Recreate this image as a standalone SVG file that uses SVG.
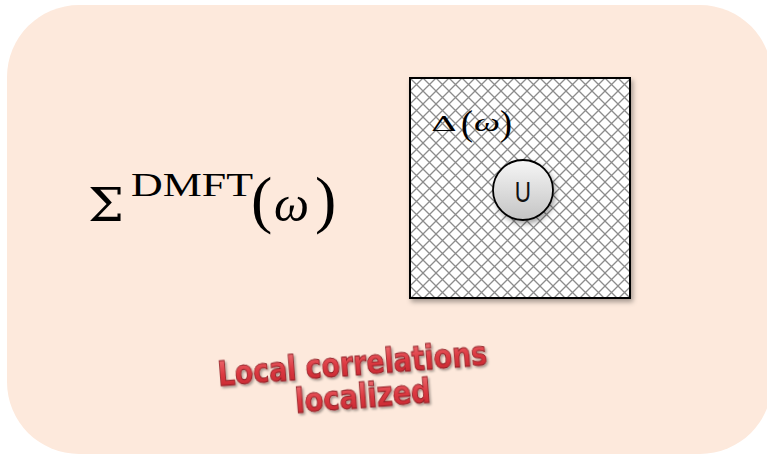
<svg xmlns="http://www.w3.org/2000/svg" width="767" height="455" viewBox="0 0 767 455">
<style>
.math{font-family:"Liberation Serif","DejaVu Serif",serif;fill:#000}
.greek{font-family:"DejaVu Serif","Liberation Serif",serif;fill:#000}
.red{font-family:"DejaVu Sans","Liberation Sans",sans-serif;font-weight:bold;font-size:33px;fill:url(#redg);stroke:#8e1c22;stroke-width:0.9;text-anchor:middle}
</style>
<defs>
<pattern id="hatch" width="13" height="13" patternUnits="userSpaceOnUse" x="410" y="78">
<rect width="13" height="13" fill="#fff"/>
<path d="M0,0 L13,13 M13,0 L0,13" stroke="#8c8c8c" stroke-width="1.3"/>
</pattern>
<linearGradient id="ug" x1="0" y1="0" x2="0" y2="1">
<stop offset="0" stop-color="#f6f6f6"/>
<stop offset="1" stop-color="#c4c4c4"/>
</linearGradient>
<linearGradient id="redg" x1="0" y1="0" x2="0" y2="1">
<stop offset="0" stop-color="#f0767a"/>
<stop offset="0.5" stop-color="#dc3a42"/>
<stop offset="1" stop-color="#c0212b"/>
</linearGradient>
<filter id="sh" x="-20%" y="-20%" width="140%" height="140%">
<feDropShadow dx="2" dy="3" stdDeviation="2.5" flood-color="#000" flood-opacity="0.35"/>
</filter>
<filter id="tsh" x="-10%" y="-30%" width="120%" height="160%">
<feDropShadow dx="1.5" dy="2" stdDeviation="1.2" flood-color="#000" flood-opacity="0.35"/>
</filter>
</defs>
<rect x="0" y="0" width="767" height="455" fill="#fff"/>
<g id="background">
<rect x="7" y="5" width="765" height="449" rx="72" ry="72" fill="#fde9dc"/>
</g>
<g id="sigma">
<text class="greek" x="88" y="221" font-size="46" textLength="36" lengthAdjust="spacingAndGlyphs">Σ</text>
<text class="math" x="131" y="196" font-size="33" textLength="122" lengthAdjust="spacingAndGlyphs">DMFT</text>
<text class="math" x="251" y="221" font-size="64">(</text>
<text class="math" x="274" y="221" font-size="50" font-style="italic" textLength="35" lengthAdjust="spacingAndGlyphs">ω</text>
<text class="math" x="315" y="221" font-size="64">)</text>
</g>
<g id="bath">
<rect x="410" y="78" width="220" height="220" fill="url(#hatch)" stroke="#000" stroke-width="2" filter="url(#sh)"/>
<text class="greek" x="431" y="131" font-size="20" textLength="26" lengthAdjust="spacingAndGlyphs">Δ</text>
<text class="math" x="461" y="135" font-size="36">(</text>
<text class="math" x="474" y="131" font-size="25" font-style="italic" textLength="26" lengthAdjust="spacingAndGlyphs">ω</text>
<text class="math" x="500" y="135" font-size="36">)</text>
</g>
<g id="impurity">
<circle cx="523" cy="190" r="30" fill="url(#ug)" stroke="#000" stroke-width="1.8" filter="url(#sh)"/>
<text x="523" y="202" font-family="Liberation Sans, Arial, sans-serif" font-size="30" text-anchor="middle" transform="translate(523 0) scale(0.75 1) translate(-523 0)" fill="#111">U</text>
</g>
<g id="label" transform="rotate(-4.5 358 385)" filter="url(#tsh)">
<text class="red" x="354" y="375" textLength="270" lengthAdjust="spacingAndGlyphs">Local correlations</text>
<text class="red" x="362" y="408" textLength="136" lengthAdjust="spacingAndGlyphs">localized</text>
</g>
</svg>
